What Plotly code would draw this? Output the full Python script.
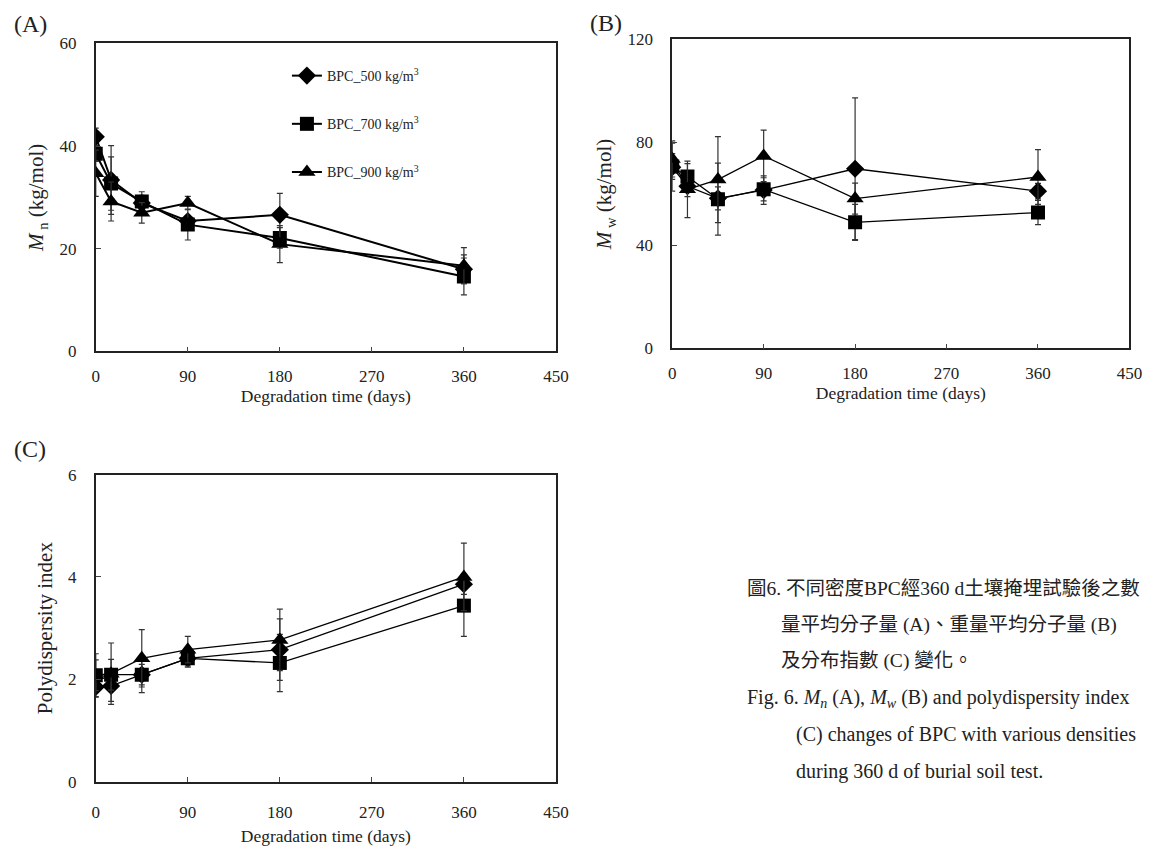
import plotly.graph_objects as go

W, H = 1164, 857
OFF = 8  # the page body margin shifts the figure by this many pixels

days = [0, 15, 45, 90, 180, 360]
series_names = ["BPC_500 kg/m<sup>3</sup>", "BPC_700 kg/m<sup>3</sup>", "BPC_900 kg/m<sup>3</sup>"]
symbols = ["diamond", "square", "triangle-up"]
marker_sizes = [14, 14, 15]

# (A) Mn (kg/mol)
mn_500 = [41.8, 33.4, 28.9, 25.4, 26.6, 16.0]
mn_500_err = [1.7, 6.7, 1.5, 1.0, 4.2, 2.8]
mn_700 = [38.5, 32.7, 29.2, 24.7, 22.1, 14.6]
mn_700_err = [1.5, 5.2, 1.9, 3.0, 2.0, 3.6]
mn_900 = [34.7, 29.2, 27.0, 28.9, 20.9, 16.7]
mn_900_err = [4.5, 3.8, 2.0, 1.3, 3.6, 3.5]

# (B) Mw (kg/mol)
mw_500 = [70.4, 63.0, 58.3, 61.5, 69.8, 61.1]
mw_500_err = [9.3, 4.0, 4.5, 5.5, 27.5, 3.0]
mw_700 = [70.7, 66.8, 58.0, 61.8, 49.0, 52.8]
mw_700_err = [5.0, 5.0, 14.0, 4.5, 7.0, 4.7]
mw_900 = [73.6, 61.8, 65.6, 74.8, 58.2, 66.6]
mw_900_err = [7.0, 11.0, 16.7, 10.0, 6.0, 10.6]

# (C) Polydispersity index
pdi_500 = [1.85, 1.87, 2.09, 2.41, 2.58, 3.86]
pdi_500_err = [0.2, 0.3, 0.2, 0.15, 0.6, 0.2]
pdi_700 = [2.08, 2.09, 2.09, 2.41, 2.32, 3.44]
pdi_700_err = [0.42, 0.3, 0.35, 0.17, 0.56, 0.6]
pdi_900 = [2.08, 2.11, 2.41, 2.58, 2.77, 4.00]
pdi_900_err = [0.3, 0.6, 0.56, 0.26, 0.6, 0.66]

FONT = "Liberation Serif, Times New Roman, serif"
CJK = "Liberation Serif, Noto Sans CJK TC, serif"
INK = "#222222"

def px_x(x):
    return (x - OFF) / W

def px_y(y):
    return 1 - (y - OFF) / H

panels = {
    "A": dict(x=(93, 560), y=(35, 350), data=[(mn_500, mn_500_err), (mn_700, mn_700_err), (mn_900, mn_900_err)],
              yrange=[0, 60], dtick=20, lw=2.0, xstand=8, tstand=1,
              ytitle="<i>M</i><sub> n</sub> (kg/mol)"),
    "B": dict(x=(678, 1142), y=(31, 347), data=[(mw_500, mw_500_err), (mw_700, mw_700_err), (mw_900, mw_900_err)],
              yrange=[0, 120], dtick=40, lw=1.3, xstand=8, tstand=1,
              ytitle="<i>M</i><sub> w</sub> (kg/mol)"),
    "C": dict(x=(93, 560), y=(476, 790), data=[(pdi_500, pdi_500_err), (pdi_700, pdi_700_err), (pdi_900, pdi_900_err)],
              yrange=[0, 6], dtick=2, lw=1.3, xstand=14, tstand=9,
              ytitle="Polydispersity index"),
}

fig = go.Figure()
layout = {}
for i, (key, p) in enumerate(panels.items()):
    n = "" if i == 0 else str(i + 1)
    xa, ya = "x" + n, "y" + n
    for j, (vals, errs) in enumerate(p["data"]):
        fig.add_trace(go.Scatter(
            x=days, y=vals, xaxis=xa, yaxis=ya,
            mode="lines+markers",
            name=series_names[j],
            legendgroup=series_names[j],
            showlegend=(key == "A"),
            line=dict(color="black", width=p["lw"]),
            marker=dict(symbol=symbols[j], size=marker_sizes[j], color="black",
                        line=dict(width=0)),
            error_y=dict(type="data", array=errs, visible=True, color="#333333",
                         thickness=1.2, width=3),
        ))
    axis_common = dict(showline=True, mirror=True, linecolor=INK, linewidth=1.5,
                       ticks="inside", ticklen=5, tickcolor="#444444", tickwidth=1,
                       showgrid=False, zeroline=False,
                       tickfont=dict(family=FONT, size=17, color=INK))
    layout["xaxis" + n] = dict(axis_common, domain=[px_x(p["x"][0]), px_x(p["x"][1])],
                               range=[0, 450], tickvals=[0, 90, 180, 270, 360, 450],
                               anchor=ya, ticklabelstandoff=p["xstand"],
                               title=dict(text="Degradation time (days)", standoff=p["tstand"],
                                          font=dict(family=FONT, size=17.5, color=INK)))
    layout["yaxis" + n] = dict(axis_common, domain=[px_y(p["y"][1]), px_y(p["y"][0])],
                               range=p["yrange"], dtick=p["dtick"], anchor=xa,
                               ticklabelstandoff=14,
                               title=dict(text=p["ytitle"], standoff=10,
                                          font=dict(family=FONT, size=21, color=INK)))

fig.update_layout(**layout)

annotations = [
    dict(text="(A)", x=px_x(8), y=px_y(15), xanchor="left", yanchor="middle"),
    dict(text="(B)", x=px_x(593), y=px_y(14), xanchor="left", yanchor="middle"),
    dict(text="(C)", x=px_x(8), y=px_y(450), xanchor="left", yanchor="middle"),
]
for a in annotations:
    a.update(xref="paper", yref="paper", showarrow=False,
             font=dict(family=FONT, size=24, color=INK))

caption_lines = [
    ("圖6. 不同密度BPC經360 d土壤掩埋試驗後之數", 752, 592, 19.5),
    ("量平均分子量 (A)、重量平均分子量 (B)", 786, 630, 19.5),
    ("及分布指數 (C) 變化。", 786, 667, 19.5),
    ("Fig. 6. <i>M</i><sub><i>n</i></sub> (A), <i>M</i><sub><i>w</i></sub> (B) and polydispersity index", 752, 705, 20),
    ("(C) changes of BPC with various densities", 802, 742, 20),
    ("during 360 d of burial soil test.", 802, 780, 20),
]
for text, x, y, fs in caption_lines:
    annotations.append(dict(text=text, x=px_x(x), y=px_y(y), xref="paper", yref="paper",
                            xanchor="left", yanchor="middle", showarrow=False,
                            font=dict(family=CJK, size=fs, color=INK)))

fig.update_layout(
    width=W, height=H,
    margin=dict(l=0, r=0, t=0, b=0),
    paper_bgcolor="white", plot_bgcolor="white",
    font=dict(family=FONT, color=INK),
    annotations=annotations,
    showlegend=True,
    legend=dict(x=px_x(287), y=px_y(52), xanchor="left", yanchor="top",
                bgcolor="rgba(0,0,0,0)", tracegroupgap=27,
                font=dict(family=FONT, size=14, color=INK),
                itemwidth=30),
)

fig.write_html("out.html")
